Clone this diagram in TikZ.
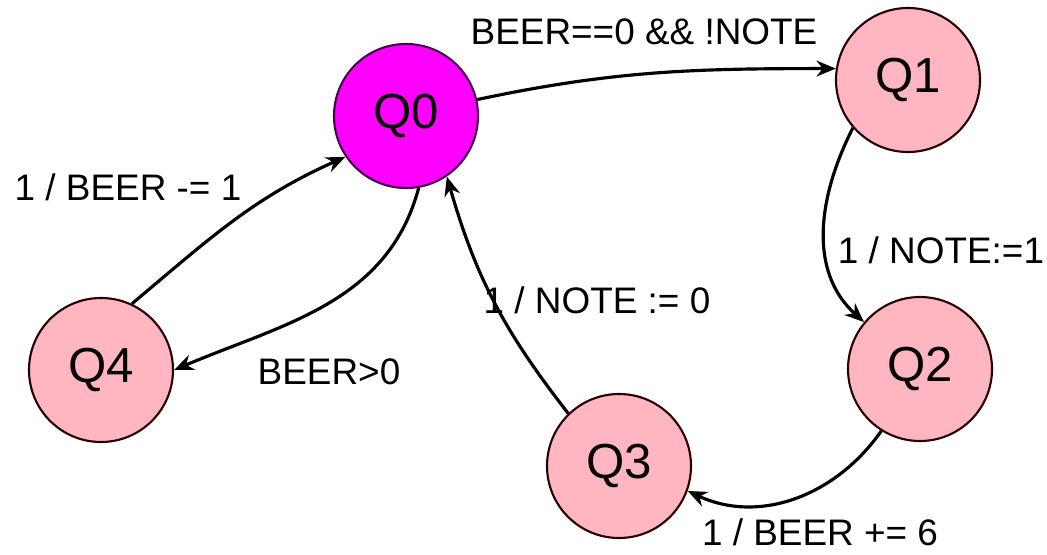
\documentclass[tikz,border=0pt]{standalone}
\usepackage{fontspec}
\setmainfont{Liberation Sans}
\usetikzlibrary{arrows.meta}
\definecolor{statepink}{RGB}{255,182,193}
\definecolor{startmag}{RGB}{255,0,255}
\definecolor{startline}{RGB}{70,0,80}

\begin{document}
\begin{tikzpicture}[
  state/.style = {circle, draw=black!85!red, line width=1.2pt, fill=statepink, minimum size=2.88cm, inner sep=0pt, font=\fontsize{28}{32}\selectfont},
  trans/.style = {line width=1.8pt, -{Stealth[length=11pt, width=9pt]}},
  lbl/.style = {font=\fontsize{21}{25}\selectfont}
]
\useasboundingbox (0,0) rectangle (20.94,11.08);
% states
\node[state, fill=startmag, draw=startline] (Q0) at (8.12, 8.76){Q0};
\node[state] (Q1) at (18.16, 9.48){Q1};
\node[state] (Q2) at (18.40, 3.70){Q2};
\node[state] (Q3) at (12.38, 1.76){Q3};
\node[state] (Q4) at (2.02, 3.68){Q4};
% labels
\node[lbl] (l01) at (12.88, 10.44){BEER==0 \&\& !NOTE};
\node[lbl] (l12) at (18.82, 6.08){1 / NOTE:=1};
\node[lbl] (l23) at (16.40, 0.44){1 / BEER += 6};
\node[lbl] (l30) at (11.94, 5.08){1 / NOTE := 0};
\node[lbl] (l04) at (6.58, 3.64){BEER>0};
\node[lbl] (l40) at (2.56, 7.34){1 / BEER -= 1};
% transitions
\draw[trans] (Q0.13) to[out=12, in=180] (Q1.171);
\draw[trans] (Q1.-139) to[out=-117, in=138] (Q2.140);
\draw[trans] (Q2.-122) to[out=-125, in=-25] (Q3.-20);
\draw[trans] (Q3.134) to[out=128, in=-74] (Q0.-56);
\draw[trans] (Q0.-80) to[out=-105, in=23] (Q4.0);
\draw[trans] (Q4.65) to[out=40, in=-156] (Q0.-146);
\end{tikzpicture}
\end{document}
